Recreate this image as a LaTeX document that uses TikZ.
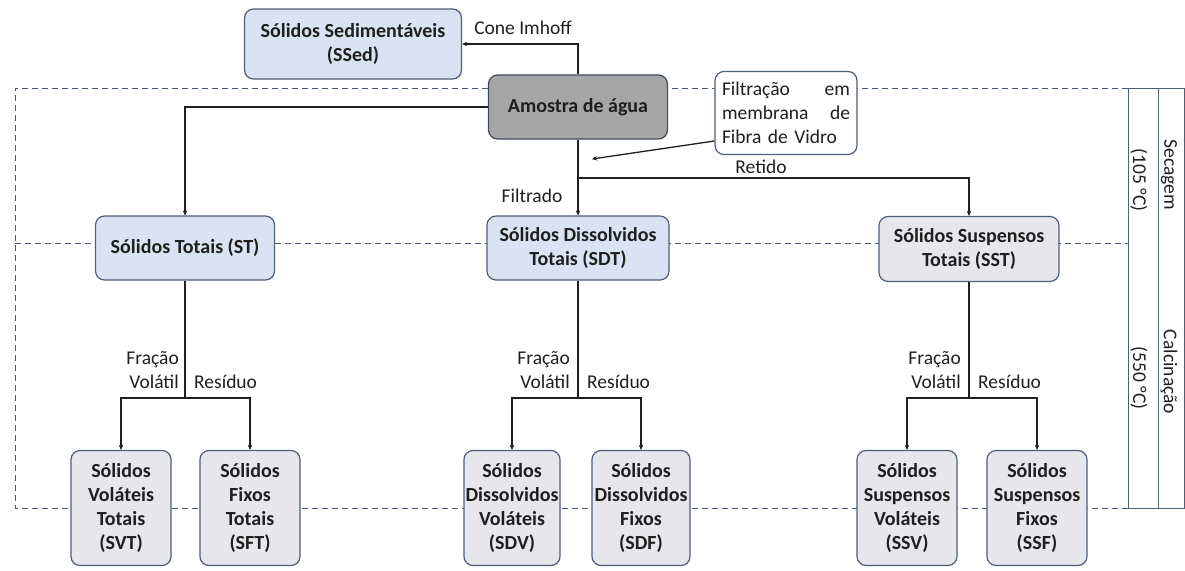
\documentclass[tikz,border=0pt]{standalone}
\usepackage{fontspec}
\setmainfont{Carlito}
\usetikzlibrary{arrows.meta}
\definecolor{bord}{HTML}{4F5F75}
\definecolor{lblue}{HTML}{DAE3F3}
\definecolor{lgray}{HTML}{E6E6EB}
\definecolor{dgray}{HTML}{A6A6A6}
\definecolor{dashc}{HTML}{4A5A70}
\definecolor{ink}{HTML}{1F1F1F}
\begin{document}
\begin{tikzpicture}[x=1pt,y=-1pt,
 box/.style={draw=bord, line width=1.2pt, rounded corners=9pt, align=center, font=\fontsize{20}{24}\selectfont\bfseries, text=ink, inner sep=1pt},
 bluebox/.style={box, fill=lblue},
 graybox/.style={box, fill=lgray},
 bot/.style={graybox, minimum width=100pt, minimum height=115pt},
 lab/.style={font=\fontsize{19.5}{24}\selectfont, text=ink, inner sep=0pt},
 arr/.style={draw=ink, line width=1.3pt, -{Stealth[length=5pt,width=4.5pt]}},
 ln/.style={draw=ink, line width=1.3pt},
 dsh/.style={draw=dashc, line width=0.9pt, dash pattern=on 6pt off 4pt},
 tbl/.style={draw=bord, line width=1pt}]
\useasboundingbox (0,0) rectangle (1185,570);
% dashed frame
\draw[dsh] (1128,88) -- (15,88) -- (15,508) -- (1128,508);
\draw[dsh] (15,243) -- (1128,243);
% table
\draw[tbl] (1128,88) -- (1184,88) -- (1184,508) -- (1128,508) -- cycle;
\draw[tbl] (1158,88) -- (1158,508);
\node[lab, rotate=-90] (sec) at (1169,175) {Secagem};
\node[lab, rotate=-90] (t105) at (1139,180) {(105 °C)};
\node[lab, rotate=-90] (cal) at (1169,372) {Calcinação};
\node[lab, rotate=-90] (t550) at (1139,378) {(550 °C)};
% nodes
\node[bluebox, minimum width=217pt, minimum height=70pt] (ssed) at (353,44) {Sólidos Sedimentáveis\\(SSed)};
\node[box, fill=dgray, draw=bord!80!black, minimum width=179pt, minimum height=64pt] (am) at (578,107) {Amostra de água};
\node[box, fill=white, font=\fontsize{19.5}{24}\selectfont, align=left, text width=128pt, inner xsep=7pt, minimum height=83pt] (filt) at (786,113) {Filtração\hfill em\\membrana\hfill de\\Fibra de Vidro};
\node[bluebox, minimum width=179pt, minimum height=64pt] (st) at (185,248) {Sólidos Totais (ST)};
\node[bluebox, minimum width=182pt, minimum height=64pt] (sdt) at (578,248) {Sólidos Dissolvidos\\Totais (SDT)};
\node[graybox, minimum width=180pt, minimum height=65pt] (sst) at (969,249) {Sólidos Suspensos\\Totais (SST)};
\node[bot] (svt) at (121,508) {Sólidos\\Voláteis\\Totais\\(SVT)};
\node[bot] (sft) at (250,508) {Sólidos\\Fixos\\Totais\\(SFT)};
\node[bot, minimum width=96pt] (sdv) at (512,508) {Sólidos\\Dissolvidos\\Voláteis\\(SDV)};
\node[bot, minimum width=98pt] (sdf) at (641,508) {Sólidos\\Dissolvidos\\Fixos\\(SDF)};
\node[bot] (ssv) at (907,508) {Sólidos\\Suspensos\\Voláteis\\(SSV)};
\node[bot] (ssf) at (1037,508) {Sólidos\\Suspensos\\Fixos\\(SSF)};
% labels
\node[lab] (cone) at (523,28) {Cone Imhoff};
\node[lab] (filtrado) at (532,196) {Filtrado};
\node[lab] (retido) at (761,167) {Retido};
\node[lab, align=right, anchor=east] (fv1) at (179,370) {Fração\\Volátil};
\node[lab, anchor=west] (r1) at (194,382) {Resíduo};
\node[lab, align=right, anchor=east] (fv2) at (570,370) {Fração\\Volátil};
\node[lab, anchor=west] (r2) at (587,382) {Resíduo};
\node[lab, align=right, anchor=east] (fv3) at (961,370) {Fração\\Volátil};
\node[lab, anchor=west] (r3) at (978,382) {Resíduo};
% coordinates
\coordinate (j) at (578,178);
\coordinate (fa) at (592,159);
\coordinate (b1) at (185,398);
\coordinate (b2) at (578,398);
\coordinate (b3) at (969,398);
% connectors
\draw[arr] (am.north) |- (ssed.east);
\draw[arr] (am.west) -| (st.north);
\draw[arr] (am.south) -- (sdt.north);
\draw[arr] (j) -| (sst.north);
\draw[arr] ([yshift=-28pt]filt.west) -- (fa);
\draw[ln] (st.south) -- (b1);
\draw[arr] (b1) -| (svt.north);
\draw[arr] (b1) -| (sft.north);
\draw[ln] (sdt.south) -- (b2);
\draw[arr] (b2) -| (sdv.north);
\draw[arr] (b2) -| (sdf.north);
\draw[ln] (sst.south) -- (b3);
\draw[arr] (b3) -| (ssv.north);
\draw[arr] (b3) -| (ssf.north);
\end{tikzpicture}
\end{document}
